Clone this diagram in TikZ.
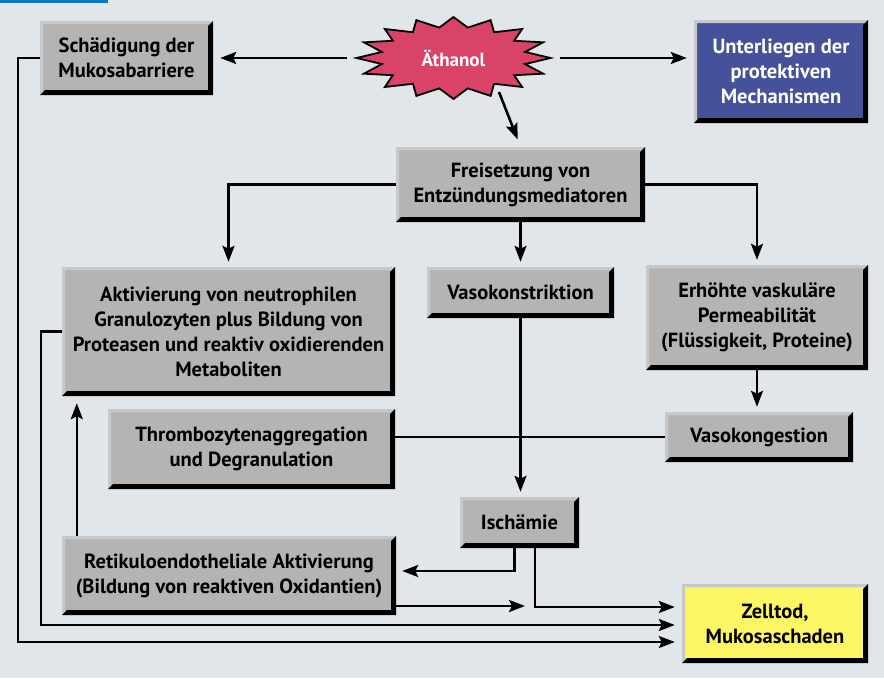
\documentclass[tikz,border=0pt]{standalone}
\usepackage{fontspec}
\setmainfont{PT Sans}
\usetikzlibrary{arrows.meta}
\definecolor{bgblue}{RGB}{225,230,235}
\definecolor{topbar}{RGB}{10,120,190}
\definecolor{boxgray}{RGB}{180,180,180}
\definecolor{bevelgray}{RGB}{200,200,200}
\definecolor{ethred}{RGB}{218,67,104}
\definecolor{protblue}{RGB}{69,81,154}
\definecolor{deathyellow}{RGB}{252,246,100}

\begin{document}
\begin{tikzpicture}[x=1pt,y=-1pt,
  box/.style={rectangle, fill=boxgray, inner sep=0pt, align=center,
    font=\fontsize{20.5}{25}\selectfont\bfseries,
    path picture={
      \path (path picture bounding box.north west) coordinate (bnw)
            (path picture bounding box.north east) coordinate (bne)
            (path picture bounding box.south east) coordinate (bse)
            (path picture bounding box.south west) coordinate (bsw);
      \fill[bevelgray] (bsw) -- (bnw) -- (bne) -- ([shift={(-3pt,-3pt)}]bne)
        -- ([shift={(3pt,-3pt)}]bnw) -- ([shift={(3pt,3pt)}]bsw) -- cycle;
      \fill[black] (bsw) -- (bse) -- (bne) -- ([shift={(-5pt,-5pt)}]bne)
        -- ([shift={(-5pt,5pt)}]bse) -- ([shift={(5pt,5pt)}]bsw) -- cycle;
    }},
  arr/.style={-{Stealth[length=16pt,width=12pt,inset=3pt]}, line width=2.6pt},
  con/.style={line width=2.6pt}]

\fill[bgblue] (0,0) rectangle (884,678);
\fill[topbar] (0,0) rectangle (108,3);

\draw[fill=ethred, line width=1.8pt, shift={(453.5,58)}]
  (0:97 and 41) \foreach \i in {0,...,15} {
    -- ({\i*22.5+11.25}:73 and 31) -- ({\i*22.5+22.5}:97 and 41)} -- cycle;
\node[font=\fontsize{19}{25}\selectfont\bfseries, text=white,
  minimum width=212pt, minimum height=84pt] (eth) at (453.5,58) {Äthanol};

\node[box, minimum width=173pt, minimum height=74pt] (schaed) at (126.5,58) {Schädigung der\\Mukosabarriere};
\node[box, fill=protblue, text=white, minimum width=174pt, minimum height=103pt] (unter) at (781,71.5) {Unterliegen der\\protektiven\\Mechanismen};
\node[box, minimum width=249pt, minimum height=75pt] (frei) at (520.5,184.5) {Freisetzung von\\Entzündungsmediatoren};
\node[box, minimum width=333pt, minimum height=129pt] (aktiv) at (228.5,331.5) {Aktivierung von neutrophilen\\Granulozyten plus Bildung von\\Proteasen und reaktiv oxidierenden\\Metaboliten};
\node[box, minimum width=187pt, minimum height=51pt] (vasok) at (520.5,292.5) {Vasokonstriktion};
\node[box, minimum width=222pt, minimum height=105pt] (erh) at (757,317.5) {Erhöhte vaskuläre\\Permeabilität\\(Flüssigkeit, Proteine)};
\node[box, minimum width=287pt, minimum height=80pt] (thromb) at (251.5,449) {Thrombozytenaggregation\\und Degranulation};
\node[box, minimum width=188pt, minimum height=50pt] (vkong) at (759,437) {Vasokongestion};
\node[box, minimum width=119pt, minimum height=51pt] (isch) at (519.5,522.5) {Ischämie};
\node[box, minimum width=334pt, minimum height=79pt] (retik) at (229,575.5) {Retikuloendotheliale Aktivierung\\(Bildung von reaktiven Oxidantien)};
\node[box, fill=deathyellow, minimum width=186pt, minimum height=79pt] (zell) at (775,623.5) {Zelltod,\\Mukosaschaden};

\draw[arr, shorten >=7pt] (eth.west) -- (schaed.east);
\draw[arr, shorten >=7pt] (eth.east) -- (eth.east -| unter.west);
\draw[arr, shorten >=8pt] ([shift={(45.5pt,-34pt)}]eth.center) -- (frei.north);

\draw[arr, shorten >=5pt] (frei.south) -- (vasok.north);
\draw[arr, shorten >=5pt] (frei.west) -| (aktiv.north);
\draw[arr, shorten >=5pt] (frei.east) -| (erh.north);
\draw[arr, shorten >=5pt] (vasok.south) -- (vasok.south |- isch.north);
\draw[arr, shorten >=5pt] (erh.south) -- (erh.south |- vkong.north);
\draw[con] (vkong.west) -- (vkong.west -| thromb.east);

\draw[arr, shorten >=6pt] ([xshift=-5pt]isch.south) |- ([yshift=4.5pt]retik.east);
\draw[arr, shorten >=7pt] ([xshift=15.5pt]isch.south) |- ([yshift=16.5pt]zell.west);
\coordinate (retikend) at (525,606);
\draw[arr] ([yshift=-30.5pt]retik.east) -- (retikend);
\draw[arr, shorten >=7pt] ([xshift=15pt]retik.north west) -- ([xshift=15pt]aktiv.south west);

\draw[arr, shorten >=7pt] (aktiv.west) -- ++(-21,0) |- ([yshift=-1.5pt]zell.west);
\draw[arr, shorten >=7pt] (schaed.west) -- ++(-22,0) |- ([yshift=-18.5pt]zell.west);
\end{tikzpicture}
\end{document}
